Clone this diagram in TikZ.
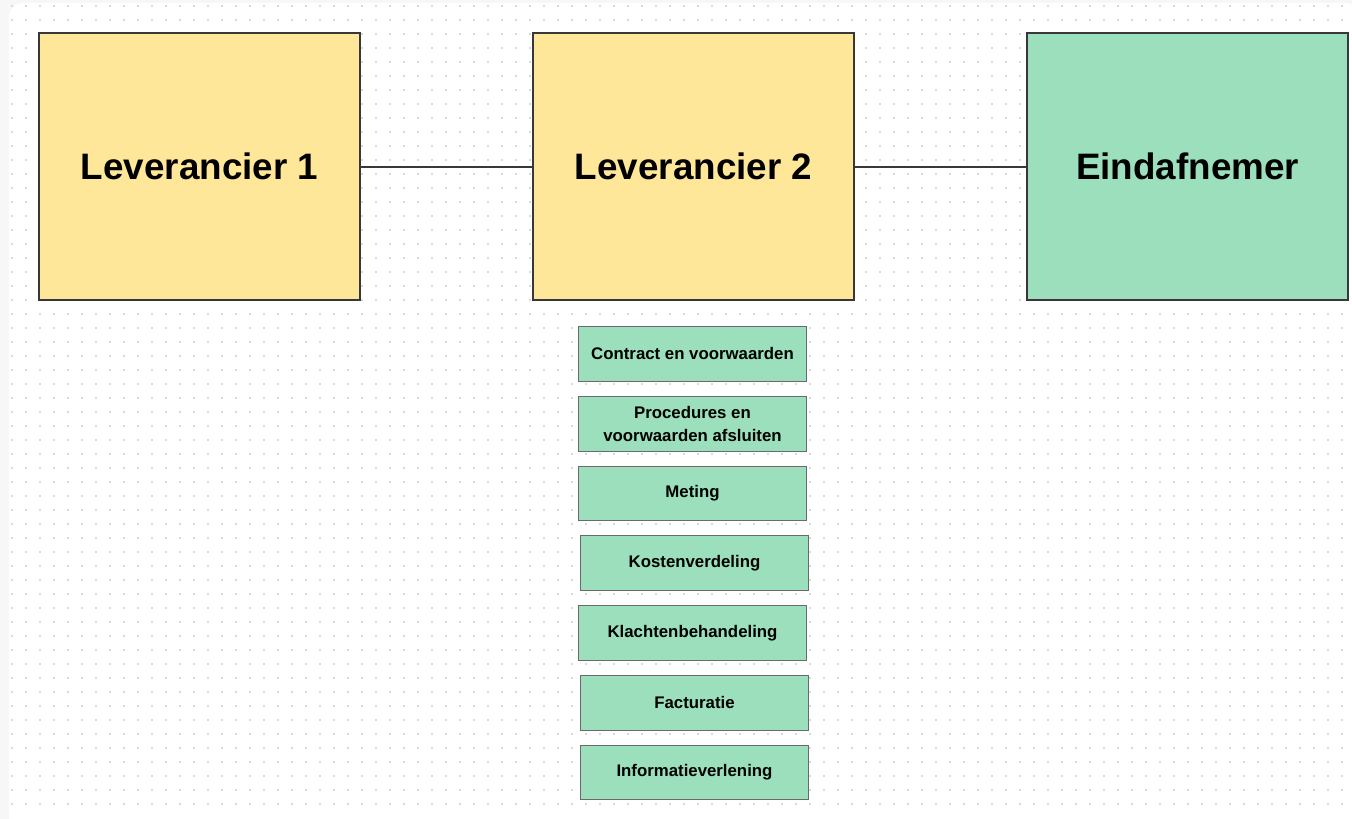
\documentclass[tikz,border=0pt]{standalone}
\usepackage{fontspec}
\setmainfont{Liberation Sans}
\definecolor{bgout}{HTML}{F7F7F7}
\definecolor{dotc}{HTML}{D9D9D9}
\definecolor{yel}{HTML}{FFE799}
\definecolor{grn}{HTML}{9BDFBC}
\definecolor{edge}{HTML}{383838}
\begin{document}
\begin{tikzpicture}[x=1pt,y=-1pt,
  bigbox/.style={draw=edge,line width=2.2pt,minimum width=321pt,minimum height=267pt,anchor=north west,font=\bfseries\fontsize{36.8}{40}\selectfont,text=black,inner sep=0pt},
  smallbox/.style={draw=edge!75,line width=1pt,fill=grn,minimum width=228pt,minimum height=54.5pt,anchor=north west,font=\bfseries\fontsize{16.8}{23}\selectfont,align=center,text=black,inner sep=0pt},
  conn/.style={draw=edge,line width=2pt}]
\useasboundingbox (0,0) rectangle (1352,819);
\fill[bgout] (0,0) rectangle (1352,819);
\fill[white,rounded corners=14pt] (9,3) rectangle (1360,830);
\fill[dotc] \foreach \i in {0,...,95}{\foreach \j in {0,...,57}{ (12+14*\i-0.8,6+14*\j-0.8) rectangle ++(1.6,1.6) }};
\node[bigbox,fill=yel] (l1) at (38,32) {Leverancier 1};
\node[bigbox,fill=yel] (l2) at (532,32) {Leverancier 2};
\node[bigbox,fill=grn] (ei) at (1026,32) {Eindafnemer};
\draw[conn] (l1.east) -- (l2.west);
\draw[conn] (l2.east) -- (ei.west);
\node[smallbox] (s1) at (578,326) {Contract en voorwaarden};
\node[smallbox] (s2) at (578,396) {Procedures en\\voorwaarden afsluiten};
\node[smallbox] (s3) at (578,465.5) {Meting};
\node[smallbox] (s4) at (580,535) {Kostenverdeling};
\node[smallbox] (s5) at (578,605) {Klachtenbehandeling};
\node[smallbox] (s6) at (580,675) {Facturatie};
\node[smallbox] (s7) at (580,744.5) {Informatieverlening};
\end{tikzpicture}
\end{document}
